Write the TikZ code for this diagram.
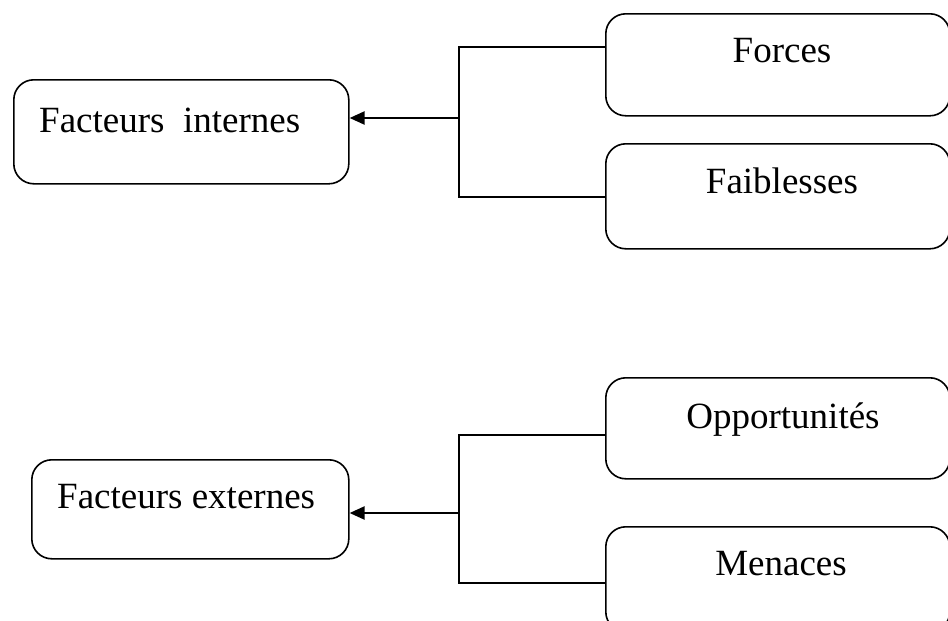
\documentclass[tikz,border=0pt]{standalone}
\usepackage{fontspec}
\setmainfont{Liberation Serif}
\usetikzlibrary{arrows.meta}
\begin{document}
\begin{tikzpicture}[x=1pt,y=-1pt,
  box/.style={draw,line width=1.6pt,rounded corners=20pt,inner sep=0pt,anchor=north west},
  lbl/.style={inner sep=0pt,anchor=base,font=\fontsize{37}{44}\selectfont},
  conn/.style={line width=1.4pt},
  arr/.style={line width=2.2pt,-{Triangle[length=15pt,width=13pt]}}]
\useasboundingbox (0,0) rectangle (948,621);
% left boxes
\node[box,minimum width=335pt,minimum height=104pt] (fi) at (13,79) {};
\node[box,minimum width=317pt,minimum height=99pt] (fe) at (31,459) {};
% right boxes
\node[box,minimum width=344pt,minimum height=102pt] (fo) at (605,13) {};
\node[box,minimum width=344pt,minimum height=105pt] (fa) at (605,143) {};
\node[box,minimum width=344pt,minimum height=101pt] (op) at (605,377) {};
\node[box,minimum width=344pt,minimum height=105pt] (me) at (605,526) {};
% labels
\node[lbl,anchor=base west] (tfi) at (39,132) {Facteurs\ \ internes};
\node[lbl,anchor=base west] (tfe) at (57,508) {Facteurs externes};
\node[lbl] (tfo) at (782,62) {Forces};
\node[lbl] (tfa) at (782,193) {Faiblesses};
\node[lbl] (top) at (783,428) {Opportunités};
\node[lbl] (tme) at (781,575) {Menaces};
% junctions
\coordinate (j1) at (459,118);
\coordinate (j2) at (459,513);
\draw[conn] (fo.west |- 0,47) -- (459,47) -- (459,197) -- (fa.west |- 0,197);
\draw[conn] (op.west |- 0,435) -- (459,435) -- (459,583) -- (me.west |- 0,583);
\draw[arr] (j1) -- (fi.east |- j1);
\draw[arr] (j2) -- (fe.east |- j2);
\end{tikzpicture}
\end{document}
